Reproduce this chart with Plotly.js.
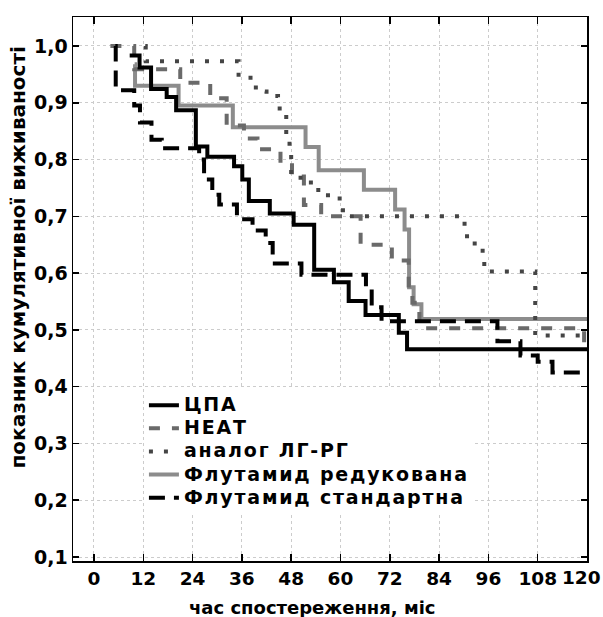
<!DOCTYPE html>
<html>
<head>
<meta charset="utf-8">
<script src="https://cdn.plot.ly/plotly-3.0.1.min.js"></script>
<style>
html,body{margin:0;padding:0;background:#fff;}
#chart{width:603px;height:617px;}
.legendtext{font-size:19px !important;letter-spacing:1.8px;}
</style>
</head>
<body>
<div id="chart"></div>
<script>
// Series names
const names = ["ЦПА", "НЕАТ", "аналог ЛГ-РГ", "Флутамид редукована", "Флутамид стандартна"];

// ЦПА
const cpaX = [8.7, 11.1, 13.9, 17.7, 20.0, 24.8, 27.6, 34.1, 36.1, 37.7, 42.8, 48.6, 53.6, 58.4, 62.0, 66.1, 74.2, 76.2, 120];
const cpaY = [0.983, 0.962, 0.924, 0.910, 0.887, 0.823, 0.805, 0.788, 0.765, 0.727, 0.705, 0.685, 0.606, 0.584, 0.551, 0.526, 0.495, 0.466, 0.466];

// НЕАТ
const heatX = [4.0, 9.8, 21.0, 28.3, 32.3, 36.5, 39.8, 45.4, 48.2, 51.1, 55.3, 64.9, 72.5, 76.6, 77.5, 79.2, 119.3, 120];
const heatY = [1.0, 0.959, 0.935, 0.908, 0.86, 0.837, 0.818, 0.794, 0.77, 0.72, 0.70, 0.65, 0.622, 0.578, 0.548, 0.503, 0.468, 0.468];

// аналог ЛГ-РГ
const lhrhX = [12.5, 12.6, 35.2, 39.4, 42.0, 44.8, 45.2, 46.8, 47.6, 48.0, 52.8, 54.6, 59.8, 60.6, 90.2, 90.8, 94.6, 95.0, 107.4, 120];
const lhrhY = [1.0, 0.973, 0.944, 0.92, 0.912, 0.904, 0.88, 0.84, 0.818, 0.768, 0.753, 0.737, 0.722, 0.70, 0.671, 0.652, 0.624, 0.603, 0.49, 0.49];

// Флутамид редукована
const fluRedX = [9.9, 10.0, 20.6, 33.8, 51.5, 54.7, 65.7, 73.3, 75.6, 76.7, 77.8, 79.7, 120];
const fluRedY = [0.968, 0.93, 0.895, 0.857, 0.822, 0.781, 0.747, 0.712, 0.677, 0.575, 0.545, 0.519, 0.519];

// Флутамид стандартна
const fluStdX = [5.2, 5.3, 9.8, 11.2, 14.0, 16.5, 25.6, 26.8, 28.8, 30.5, 34.8, 38.6, 41.8, 43.5, 50.5, 66.2, 67.6, 70.0, 98.2, 103.8, 108.0, 111.6, 120];
const fluStdY = [1.0, 0.922, 0.895, 0.865, 0.835, 0.82, 0.80, 0.765, 0.738, 0.721, 0.695, 0.675, 0.653, 0.617, 0.597, 0.575, 0.54, 0.515, 0.48, 0.455, 0.444, 0.425, 0.425];

// Axis ticks
const xTicks = [0, 12, 24, 36, 48, 60, 72, 84, 96, 108, 120];
const xTickText = ["0", "12", "24", "36", "48", "60", "72", "84", "96", "108", ""];
const lastXLabel = "120";
const yTicks = [0.1, 0.2, 0.3, 0.4, 0.5, 0.6, 0.7, 0.8, 0.9, 1.0];
const yTickText = ["0,1", "0,2", "0,3", "0,4", "0,5", "0,6", "0,7", "0,8", "0,9", "1,0"];

const xTitle = "час спостереження, міс";
const yTitle = "показник кумулятивної виживаності";

const FONT = "DejaVu Sans";

function tr(x, y, name, color, dash, rank) {
  return {
    x: x, y: y, name: name, type: "scatter", mode: "lines",
    line: {shape: "hv", color: color, width: 4, dash: dash},
    legendrank: rank, hoverinfo: "skip"
  };
}

const data = [
  tr(fluRedX, fluRedY, names[3], "#8c8c8c", "solid", 4),
  tr(heatX, heatY, names[1], "#6a6a6a", "11px,12px", 2),
  tr(lhrhX, lhrhY, names[2], "#454545", "4px,11px", 3),
  tr(fluStdX, fluStdY, names[4], "#000000", "16px,9px", 5),
  tr(cpaX, cpaY, names[0], "#000000", "solid", 1)
];

const layout = {
  width: 603, height: 617,
  margin: {l: 73, r: 16, t: 17, b: 56},
  paper_bgcolor: "#ffffff", plot_bgcolor: "#ffffff",
  showlegend: true,
  legend: {
    x: 0.138, y: 0.317, xanchor: "left", yanchor: "top",
    bgcolor: "#ffffff", borderwidth: 0,
    font: {family: FONT, size: 15.5, color: "#000", weight: "bold"},
    itemwidth: 30
  },
  xaxis: {
    range: [-5.1, 120], tickvals: xTicks, ticktext: xTickText,
    showgrid: true, gridcolor: "#cccccc", griddash: "dot", gridwidth: 1,
    zeroline: false, showline: true, linecolor: "#000", linewidth: 1.5, mirror: "ticks",
    ticks: "inside", ticklen: 7, tickcolor: "#000", tickwidth: 1.5,
    tickfont: {family: FONT, size: 18.5, color: "#000", weight: "bold"}
  },
  yaxis: {
    range: [0.093, 1.051], tickvals: yTicks, ticktext: yTickText,
    showgrid: true, gridcolor: "#cccccc", griddash: "dot", gridwidth: 1,
    zeroline: false, showline: true, linecolor: "#000", linewidth: 1.5, mirror: "ticks",
    ticks: "inside", ticklen: 6, tickcolor: "#000", tickwidth: 1.5,
    tickfont: {family: FONT, size: 19, color: "#000", weight: "bold"}
  },
  annotations: [
    {text: lastXLabel, xref: "paper", yref: "paper", x: 0.9885, y: -0.03, xanchor: "center", yanchor: "middle",
     showarrow: false, font: {family: FONT, size: 18.5, color: "#000", weight: "bold"}},
    {text: xTitle, xref: "paper", yref: "paper", x: 0.465, y: -0.085, xanchor: "center", yanchor: "middle",
     showarrow: false, font: {family: FONT, size: 18, color: "#000", weight: "bold"}},
    {text: yTitle, xref: "paper", yref: "paper", x: -0.107, y: 0.558, xanchor: "center", yanchor: "middle",
     textangle: -90, showarrow: false, font: {family: FONT, size: 20, color: "#000", weight: "bold"}}
  ]
};

Plotly.newPlot("chart", data, layout, {staticPlot: true, displayModeBar: false});
</script>
</body>
</html>
